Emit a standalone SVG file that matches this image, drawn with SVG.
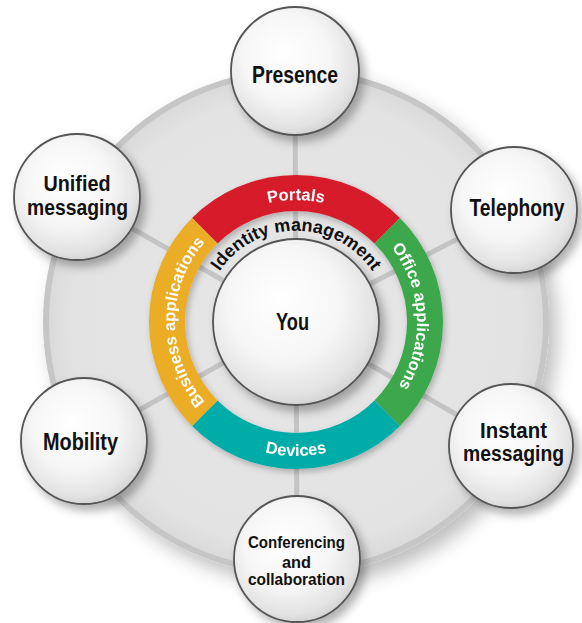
<svg xmlns="http://www.w3.org/2000/svg" width="582" height="623" viewBox="0 0 582 623">
<defs>
<style>
.lbl{font-family:"Liberation Sans Narrow","Liberation Sans",Arial,sans-serif;font-weight:bold;fill:#111;text-anchor:middle}
.big{font-size:23px}
.two{font-size:22px}
.small{font-size:16px}
.ring{font-family:"Liberation Sans",Arial,sans-serif;font-weight:bold;fill:#fff;font-size:16.5px}
.idm{font-family:"Liberation Sans",Arial,sans-serif;font-weight:bold;fill:#111;font-size:18px}
.node{fill:url(#ng);stroke:#555;stroke-width:1.8;filter:url(#sh)}
.spoke{stroke:#c4c4c4;stroke-width:5;fill:none}
.seg{fill:none;stroke-width:36}
</style>
<radialGradient id="ng" cx="0.45" cy="0.42" r="0.62" fx="0.4" fy="0.35">
<stop offset="0" stop-color="#ffffff"/>
<stop offset="0.55" stop-color="#f6f6f6"/>
<stop offset="0.85" stop-color="#e3e3e3"/>
<stop offset="1" stop-color="#cdcdcd"/>
</radialGradient>
<radialGradient id="dg" cx="0.5" cy="0.5" r="0.5">
<stop offset="0" stop-color="#e6e6e6"/>
<stop offset="0.9" stop-color="#e3e3e3"/>
<stop offset="1" stop-color="#d9d9d9"/>
</radialGradient>
<filter id="sh" x="-30%" y="-30%" width="170%" height="170%">
<feDropShadow dx="5" dy="6" stdDeviation="5" flood-color="#000" flood-opacity="0.3"/>
</filter>
<filter id="dsh" x="-20%" y="-20%" width="150%" height="150%">
<feDropShadow dx="8" dy="10" stdDeviation="9" flood-color="#000" flood-opacity="0.25"/>
</filter>
<filter id="rsh" x="-20%" y="-20%" width="150%" height="150%">
<feDropShadow dx="2" dy="3" stdDeviation="3" flood-color="#000" flood-opacity="0.25"/>
</filter>
<path id="pPortals" d="M209.73,235.73 A122,122 0 0 1 382.27,235.73"/>
<path id="pDevices" d="M201.25,416.75 A134,134 0 0 0 390.75,416.75"/>
<path id="pOffice" d="M333.39,206.92 A121,121 0 0 1 345.21,432.54"/>
<path id="pBusiness" d="M254.62,435.7 A121,121 0 0 1 254.62,208.3"/>
<path id="pIdm" d="M209.55,291.22 A92,92 0 0 1 382.45,291.22"/>
</defs>

<g id="backdrop">
<circle cx="296" cy="322" r="250" fill="url(#dg)" stroke="#c6c6c6" stroke-width="6" filter="url(#dsh)"/>
</g>

<g id="connectors">
<line class="spoke" x1="296" y1="322" x2="295" y2="71"/>
<line class="spoke" x1="296" y1="322" x2="514" y2="210"/>
<line class="spoke" x1="296" y1="322" x2="511" y2="446"/>
<line class="spoke" x1="296" y1="322" x2="297" y2="559"/>
<line class="spoke" x1="296" y1="322" x2="84" y2="441"/>
<line class="spoke" x1="296" y1="322" x2="77" y2="197"/>
</g>

<g id="ring" filter="url(#rsh)">
<g id="portals">
<path class="seg" stroke="#d61f2b" d="M204.78,230.78 A129,129 0 0 1 387.22,230.78"/>
<text class="ring"><textPath href="#pPortals" startOffset="50%" text-anchor="middle">Portals</textPath></text>
</g>
<g id="office-applications">
<path class="seg" stroke="#3ca84b" d="M387.22,230.78 A129,129 0 0 1 387.22,413.22"/>
<text class="ring"><textPath href="#pOffice" startOffset="50%" text-anchor="middle">Office applications</textPath></text>
</g>
<g id="devices">
<path class="seg" stroke="#04aca8" d="M387.22,413.22 A129,129 0 0 1 204.78,413.22"/>
<text class="ring"><textPath href="#pDevices" startOffset="50%" text-anchor="middle">Devices</textPath></text>
</g>
<g id="business-applications">
<path class="seg" stroke="#ebad28" d="M204.78,413.22 A129,129 0 0 1 204.78,230.78"/>
<text class="ring"><textPath href="#pBusiness" startOffset="50%" text-anchor="middle">Business applications</textPath></text>
</g>
</g>

<g id="identity-management">
<text class="idm"><textPath href="#pIdm" startOffset="50%" text-anchor="middle">Identity management</textPath></text>
</g>

<g id="you">
<circle class="node" cx="296" cy="322" r="83" stroke-width="2.2"/>
<text class="lbl big" x="292.5" y="330" textLength="33" lengthAdjust="spacingAndGlyphs">You</text>
</g>

<g id="presence">
<circle class="node" cx="295" cy="71" r="64"/>
<text class="lbl big" x="295" y="83" textLength="86" lengthAdjust="spacingAndGlyphs">Presence</text>
</g>

<g id="telephony">
<circle class="node" cx="514" cy="210" r="63"/>
<text class="lbl big" x="517" y="216" textLength="95" lengthAdjust="spacingAndGlyphs">Telephony</text>
</g>

<g id="instant-messaging">
<circle class="node" cx="511" cy="446" r="62"/>
<text class="lbl two" x="513.5" y="437.5" textLength="67" lengthAdjust="spacingAndGlyphs">Instant</text>
<text class="lbl two" x="513.5" y="461" textLength="101" lengthAdjust="spacingAndGlyphs">messaging</text>
</g>

<g id="conferencing-and-collaboration">
<circle class="node" cx="297" cy="559" r="63"/>
<text class="lbl small" x="296.5" y="548" textLength="97" lengthAdjust="spacingAndGlyphs">Conferencing</text>
<text class="lbl small" x="296.5" y="568" textLength="29" lengthAdjust="spacingAndGlyphs">and</text>
<text class="lbl small" x="296.5" y="585" textLength="97" lengthAdjust="spacingAndGlyphs">collaboration</text>
</g>

<g id="mobility">
<circle class="node" cx="84" cy="441" r="63"/>
<text class="lbl big" x="80.5" y="450" textLength="75" lengthAdjust="spacingAndGlyphs">Mobility</text>
</g>

<g id="unified-messaging">
<circle class="node" cx="77" cy="197" r="63"/>
<text class="lbl two" x="77" y="191" textLength="67" lengthAdjust="spacingAndGlyphs">Unified</text>
<text class="lbl two" x="77.5" y="215" textLength="101" lengthAdjust="spacingAndGlyphs">messaging</text>
</g>
</svg>
